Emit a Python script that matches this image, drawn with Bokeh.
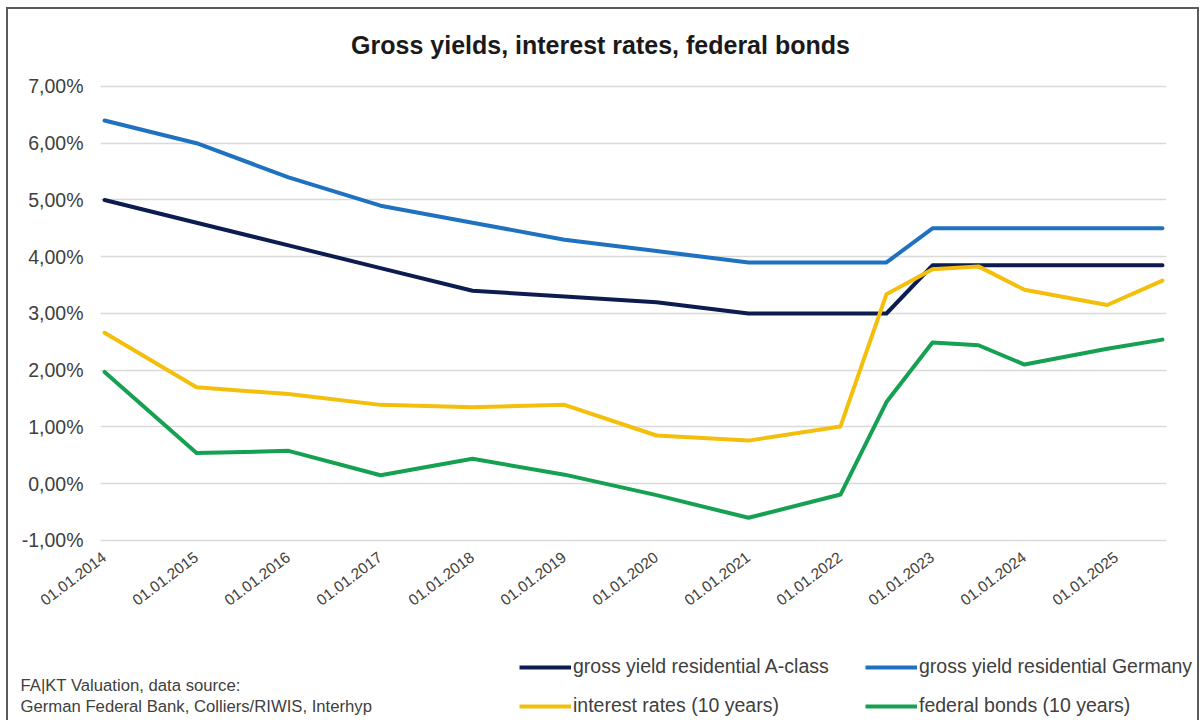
from math import radians
from bokeh.plotting import figure
from bokeh.layouts import column
from bokeh.models import Range1d, FixedTicker, Legend, LegendItem, Label
from bokeh.embed import file_html
from bokeh.resources import INLINE

# ---------------- data ----------------
dates = [2014.0, 2015.0, 2016.0, 2017.0, 2018.0, 2019.0, 2020.0, 2021.0,
         2022.0, 2022.5, 2023.0, 2023.5, 2024.0, 2024.9, 2025.5]
gross_a_class = [5.00, 4.60, 4.20, 3.80, 3.40, 3.30, 3.20, 3.00,
                 3.00, 3.00, 3.85, 3.85, 3.85, 3.85, 3.85]
gross_germany = [6.40, 6.00, 5.40, 4.90, 4.60, 4.30, 4.10, 3.90,
                 3.90, 3.90, 4.50, 4.50, 4.50, 4.50, 4.50]
interest_10y = [2.66, 1.70, 1.58, 1.39, 1.35, 1.39, 0.85, 0.76,
                1.01, 3.34, 3.78, 3.83, 3.42, 3.15, 3.58]
bonds_10y = [1.97, 0.54, 0.58, 0.15, 0.44, 0.16, -0.20, -0.60,
             -0.19, 1.44, 2.49, 2.44, 2.10, 2.38, 2.54]

series_names = ["gross yield residential A-class", "gross yield residential Germany",
                "interest rates (10 years)", "federal bonds (10 years)"]
series_colors = ["#0c1c50", "#1f72c0", "#f4bf0c", "#16a152"]
series_values = [gross_a_class, gross_germany, interest_10y, bonds_10y]

x_ticks = [2014, 2015, 2016, 2017, 2018, 2019, 2020, 2021, 2022, 2023, 2024, 2025]
x_tick_labels = ["01.01.2014", "01.01.2015", "01.01.2016", "01.01.2017",
                 "01.01.2018", "01.01.2019", "01.01.2020", "01.01.2021",
                 "01.01.2022", "01.01.2023", "01.01.2024", "01.01.2025"]
y_ticks = [-1, 0, 1, 2, 3, 4, 5, 6, 7]
y_tick_labels = ["-1,00%", "0,00%", "1,00%", "2,00%", "3,00%",
                 "4,00%", "5,00%", "6,00%", "7,00%"]

title_text = "Gross yields, interest rates, federal bonds"
source_lines = ["FA|KT Valuation, data source:",
                "German Federal Bank, Colliers/RIWIS, Interhyp"]

FONT = "Liberation Sans"
TEXT = "#404040"
BORDER = "2px solid #5a5a5a"

# ---------------- main chart ----------------
p = figure(width=1189, height=631, output_backend="svg", toolbar_location=None,
           x_range=Range1d(2014 - 0.044, 2025.5 + 0.044),
           y_range=Range1d(-1.0529, 8.3568),
           min_border_left=92, min_border_right=31,
           min_border_top=0, min_border_bottom=97)
p.frame_align = False
p.background_fill_color = "white"
p.border_fill_color = "white"
p.outline_line_color = None

p.add_layout(Label(x=500, y=499, x_units="screen", y_units="screen",
                   text=title_text, text_align="center", text_baseline="middle",
                   text_font=FONT, text_font_size="25px", text_font_style="bold",
                   text_color="#1a1a1a"))

xa = p.xaxis[0]
xa.ticker = FixedTicker(ticks=x_ticks)
xa.major_label_overrides = {t: l for t, l in zip(x_ticks, x_tick_labels)}
xa.major_label_orientation = radians(37)
xa.axis_line_color = None
xa.major_tick_line_color = None
xa.minor_tick_line_color = None
xa.major_tick_out = 0
xa.major_tick_in = 0
xa.major_label_standoff = 12
xa.major_label_text_font = FONT
xa.major_label_text_font_size = "15.5px"
xa.major_label_text_color = TEXT

ya = p.yaxis[0]
ya.ticker = FixedTicker(ticks=y_ticks)
ya.major_label_overrides = {t: l for t, l in zip(y_ticks, y_tick_labels)}
ya.axis_line_color = None
ya.major_tick_line_color = None
ya.minor_tick_line_color = None
ya.major_tick_out = 0
ya.major_tick_in = 0
ya.major_label_standoff = 17
ya.major_label_text_font = FONT
ya.major_label_text_font_size = "19.5px"
ya.major_label_text_color = TEXT

p.xgrid.visible = False
p.ygrid.ticker = FixedTicker(ticks=y_ticks)
p.ygrid.grid_line_color = "#d9d9d9"
p.ygrid.grid_line_width = 1.5

for vals, col in zip(series_values, series_colors):
    p.line(dates, vals, line_color=col, line_width=4,
           line_join="round", line_cap="round")

# ---------------- footer: source note + legend ----------------
f = figure(width=1189, height=80, output_backend="svg", toolbar_location=None,
           x_range=Range1d(2014 - 0.044, 2025.5 + 0.044), y_range=Range1d(-1.0529, 8.3568),
           min_border_left=0, min_border_right=0, min_border_top=0, min_border_bottom=0)
f.frame_align = False
f.xaxis.visible = False
f.yaxis.visible = False
f.xgrid.visible = False
f.ygrid.visible = False
f.outline_line_color = None
f.background_fill_color = "white"
f.border_fill_color = "white"

legend_renderers = []
for vals, col in zip(series_values, series_colors):
    r = f.line(dates, vals, line_color=col, line_width=4, visible=False)
    legend_renderers.append(r)

legend = Legend(items=[LegendItem(label=n, renderers=[r])
                       for n, r in zip(series_names, legend_renderers)],
                orientation="horizontal", ncols=2,
                location=(511, 3),
                glyph_width=52, glyph_height=22, label_height=22, label_width=276,
                label_standoff=2, spacing=16, padding=0, margin=0,
                border_line_color=None, background_fill_alpha=0,
                label_text_font=FONT, label_text_font_size="19.5px",
                label_text_color=TEXT)
f.add_layout(legend, "center")

for line, yy in zip(source_lines, [35, 14]):
    f.add_layout(Label(x=12, y=yy, x_units="screen", y_units="screen",
                       text=line, text_font=FONT, text_font_size="16.7px",
                       text_color=TEXT, text_baseline="middle", text_align="left"))

layout = column(p, f, spacing=0, margin=(7, 0, 0, 6),
                styles={"border-left": BORDER, "border-top": BORDER, "border-right": BORDER})

open("out.html", "w").write(file_html(layout, INLINE))
